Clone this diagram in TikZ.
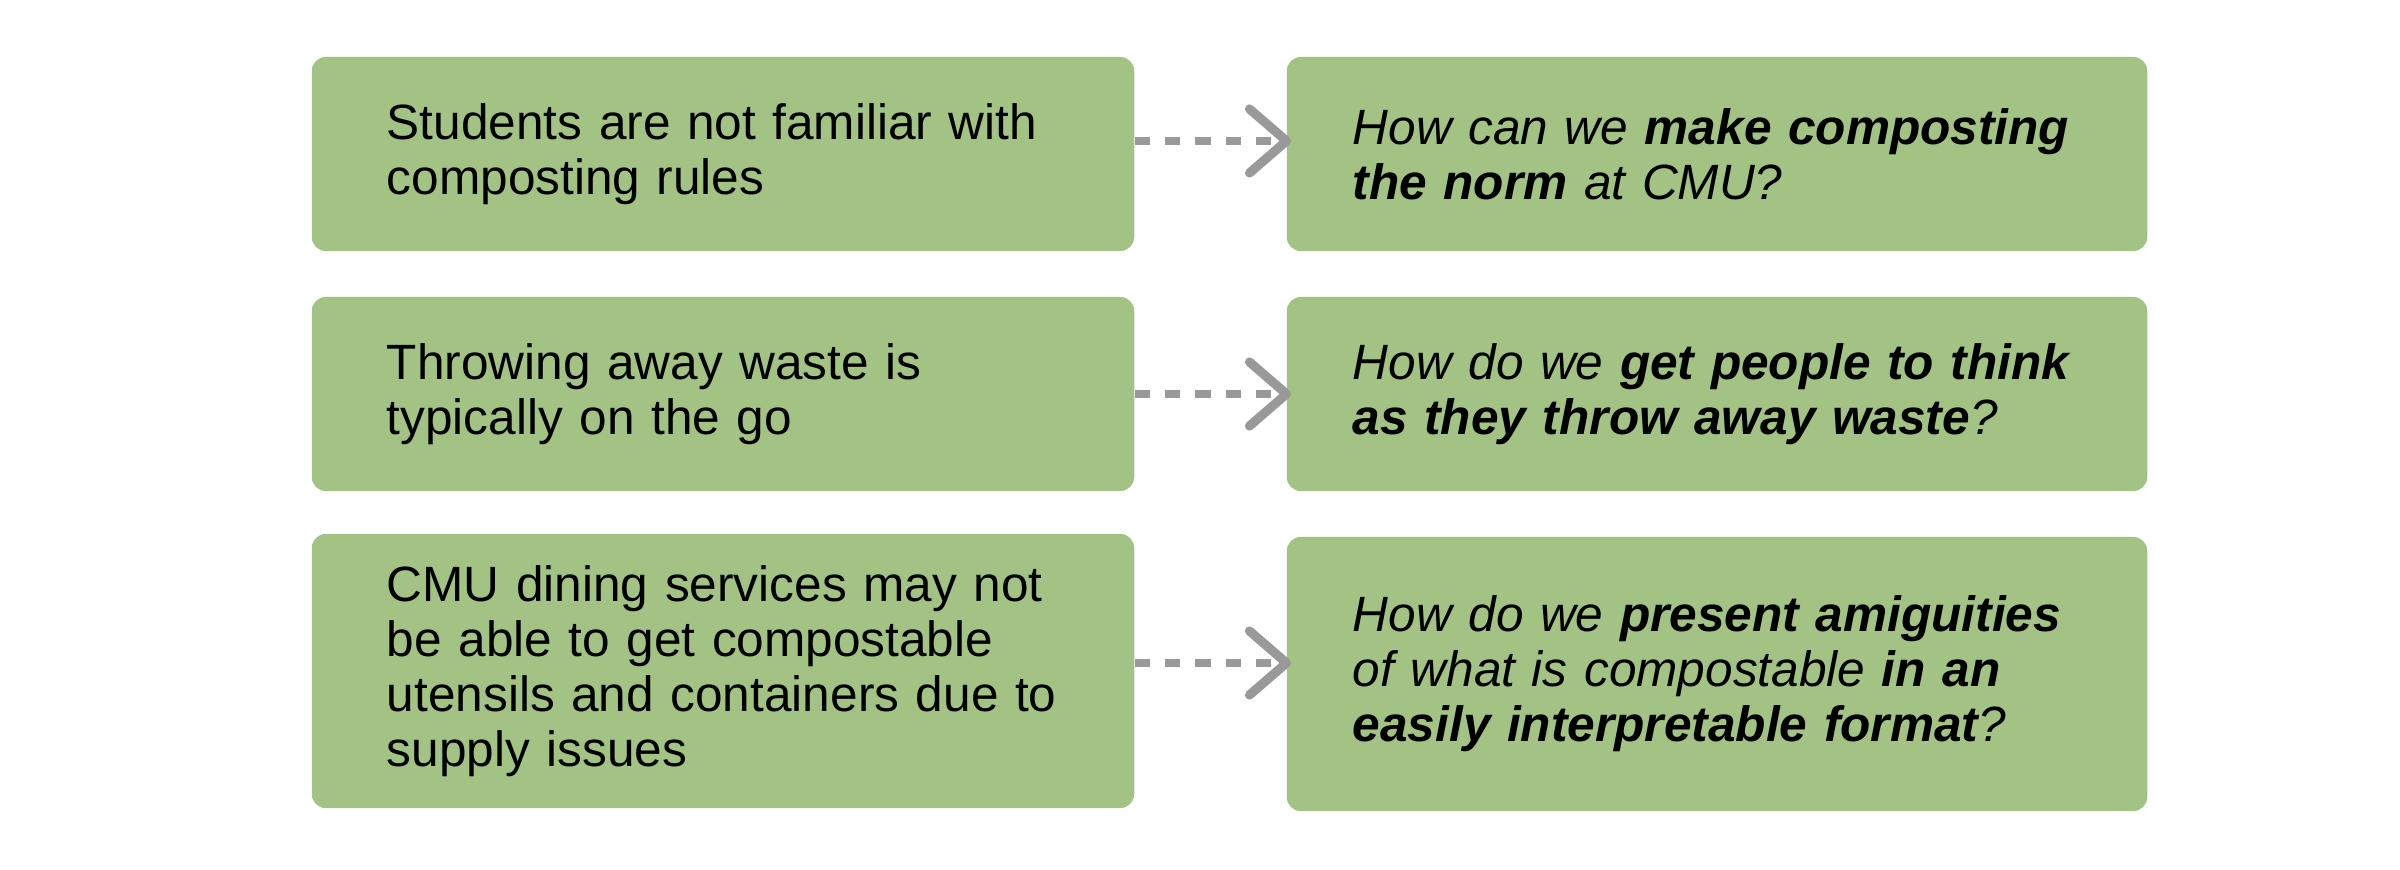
\documentclass[tikz,border=0pt]{standalone}
\usepackage{fontspec}
\setmainfont{Liberation Sans}
\usetikzlibrary{arrows.meta}
\definecolor{boxgreen}{HTML}{A3C385}
\definecolor{arrowgray}{HTML}{999999}
\tikzset{
  box/.style={fill=boxgreen, rounded corners=0.14cm, inner sep=0pt, align=left,
    font=\fontsize{14.1}{15.6}\selectfont, text=black},
  leftbox/.style={box, minimum width=8.22cm, text width=6.72cm},
  rightbox/.style={box, minimum width=8.60cm, text width=7.28cm},
  flow/.style={draw=arrowgray, line width=2.3pt, dash pattern=on 4.3pt off 4.3pt,
    -{Straight Barb[length=0.37cm, width=0.64cm, line width=2.6pt, line cap=round, line join=round]}}
}
\begin{document}
\begin{tikzpicture}[x=0.01cm, y=-0.01cm]
\useasboundingbox (0,0) rectangle (2400,870);
\node[leftbox, minimum height=1.94cm] (L1) at (723,154) {Students are not familiar with\\composting rules};
\node[rightbox, minimum height=1.94cm] (R1) at (1717,154) {\itshape How can we \textbf{make composting}\\\textbf{the norm} at CMU?};
\node[leftbox, minimum height=1.94cm] (L2) at (723,394) {Throwing away waste is\\typically on the go};
\node[rightbox, minimum height=1.94cm] (R2) at (1717,394) {\itshape How do we \textbf{get people to think}\\\textbf{as they throw away waste}?};
\node[leftbox, minimum height=2.74cm] (L3) at (723,671) {CMU dining services may not\\be able to get compostable\\utensils and containers due to\\supply issues};
\node[rightbox, minimum height=2.74cm] (R3) at (1717,674) {\itshape How do we \textbf{present amiguities}\\of what is compostable \textbf{in an}\\\textbf{easily interpretable format}?};
\draw[flow] ([yshift=0.13cm]L1.east) -- ([yshift=0.13cm, xshift=0.05cm]R1.west);
\draw[flow] (L2.east) -- ([xshift=0.05cm]R2.west);
\draw[flow] ([yshift=0.08cm]L3.east) -- ([yshift=0.08cm, xshift=0.05cm]L3.east -| R3.west);
\end{tikzpicture}
\end{document}
